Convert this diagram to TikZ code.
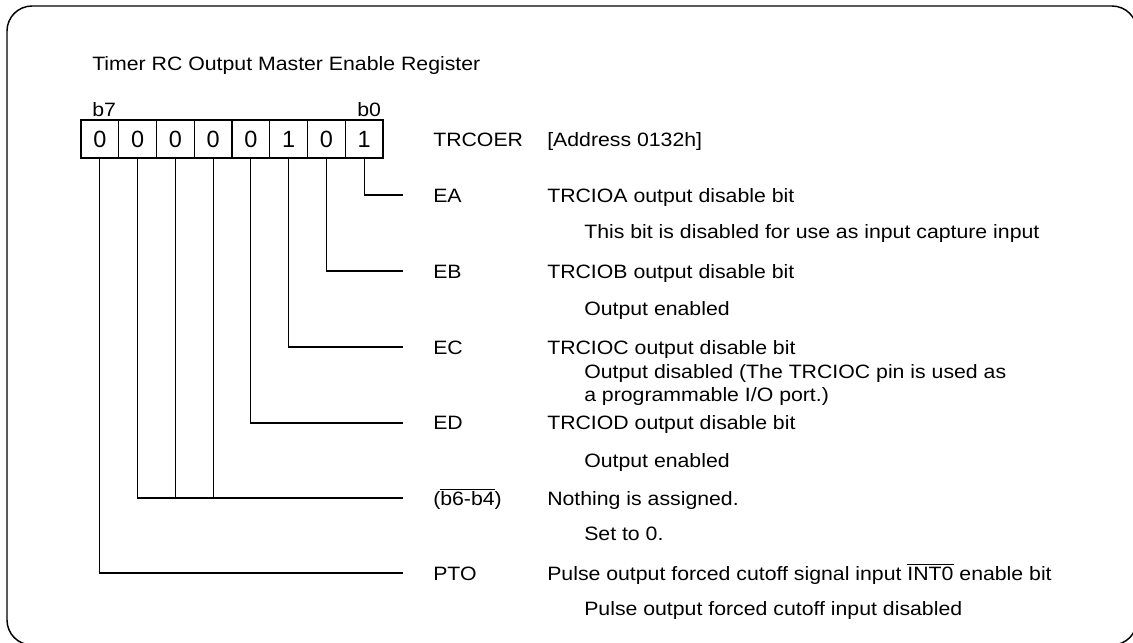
\documentclass[tikz,border=0pt]{standalone}
\usepackage{fontspec}
\setmainfont[FakeStretch=1.1]{Liberation Sans}
\newfontfamily\digitfont{Liberation Sans}
\newcommand{\ovl}[1]{$\overline{\hbox{#1}}$}
\begin{document}
\begin{tikzpicture}[x=0.75pt,y=-0.75pt,
  txt/.style={anchor=base west,inner sep=0,font=\fontsize{14.5}{17}\selectfont},
  bitcell/.style={draw,line width=0.9pt,minimum width=28.3pt,minimum height=28.5pt,inner sep=0,font=\digitfont\fontsize{17.6}{20}\selectfont},
  conn/.style={line width=0.8pt}]
\useasboundingbox (0,0) rectangle (1133,643);
\draw[line width=1.1pt,rounded corners=18.75pt] (7,6) rectangle (1137,645);

\node[txt] (title) at (92,70) {Timer RC Output Master Enable Register};
\node[txt] (lb7) at (92,116) {b7};
\node[txt] (lb0) at (357,116) {b0};

\node[bitcell] (c7) at (99.875,139) {0};
\node[bitcell] (c6) at (137.625,139) {0};
\node[bitcell] (c5) at (175.375,139) {0};
\node[bitcell] (c4) at (213.125,139) {0};
\node[bitcell] (c3) at (250.875,139) {0};
\node[bitcell] (c2) at (288.625,139) {1};
\node[bitcell] (c1) at (326.375,139) {0};
\node[bitcell] (c0) at (364.125,139) {1};

\coordinate (eA) at (403,195);
\coordinate (eB) at (403,271);
\coordinate (eC) at (403,347);
\coordinate (eD) at (403,423);
\coordinate (eN) at (403,498);
\coordinate (eP) at (403,573);

\draw[conn] (c0.south) |- (eA);
\draw[conn] (c1.south) |- (eB);
\draw[conn] (c2.south) |- (eC);
\draw[conn] (c3.south) |- (eD);
\draw[conn] (c6.south) |- (eN);
\draw[conn] (c5.south) -- (c5.south |- eN);
\draw[conn] (c4.south) -- (c4.south |- eN);
\draw[conn] (c7.south) |- (eP);

\node[txt] (reg) at (433,146) {TRCOER};
\node[txt] (addr) at (547,146) {[Address 0132h]};

\node[txt] (nA) at (433,202) {EA};
\node[txt] (dA) at (547,202) {TRCIOA output disable bit};
\node[txt] (vA) at (584,238) {This bit is disabled for use as input capture input};

\node[txt] (nB) at (433,278) {EB};
\node[txt] (dB) at (547,278) {TRCIOB output disable bit};
\node[txt] (vB) at (584,315) {Output enabled};

\node[txt] (nC) at (433,354) {EC};
\node[txt] (dC) at (547,354) {TRCIOC output disable bit};
\node[txt] (vC) at (584,378) {Output disabled (The TRCIOC pin is used as};
\node[txt] (vC2) at (584,401) {a programmable I/O port.)};

\node[txt] (nD) at (433,429) {ED};
\node[txt] (dD) at (547,429) {TRCIOD output disable bit};
\node[txt] (vD) at (584,467) {Output enabled};

\node[txt] (nN) at (433,505) {(\ovl{b6-b4})};
\node[txt] (dN) at (547,505) {Nothing is assigned.};
\node[txt] (vN) at (584,540) {Set to 0.};

\node[txt] (nP) at (433,580) {PTO};
\node[txt] (dP) at (547,580) {Pulse output forced cutoff signal input \ovl{INT0} enable bit};
\node[txt] (vP) at (584,615) {Pulse output forced cutoff input disabled};
\end{tikzpicture}
\end{document}
